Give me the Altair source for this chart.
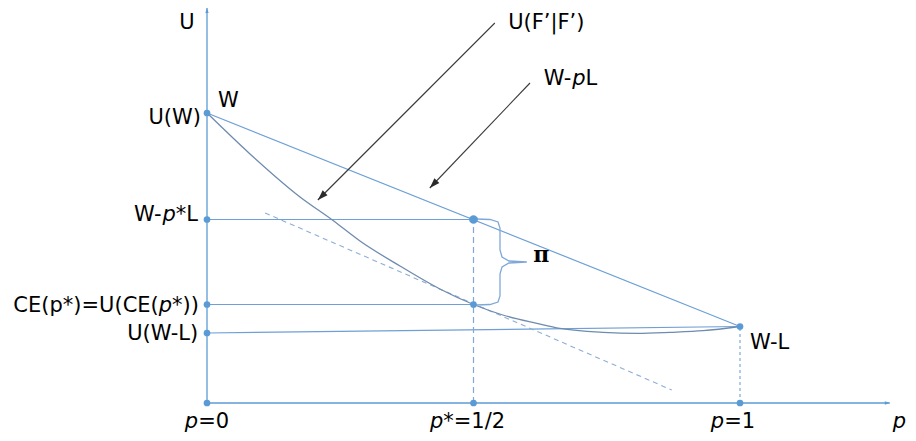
import math
import altair as alt
import pandas as pd

# ---------------- data (p on x, utility U on y) ----------------
U_W = 290.0        # U(W)
U_WPL = 183.5      # W - p*L
U_CE = 98.5        # CE(p*) = U(CE(p*))
U_WL_AXIS = 70.0   # U(W-L) on the axis
U_WL_END = 76.5    # W-L end point
P_STAR = 0.5
P_ONE = 1.0
P_AXIS_END = 1.281
U_AXIS_END = 395.0

curve_p = [0.0, 0.0807, 0.1745, 0.2364, 0.287, 0.362, 0.437, 0.5, 0.555, 0.619,
           0.662, 0.743, 0.807, 0.869, 0.931, 1.0]
curve_u = [290, 249, 206, 182.5, 162, 137, 114, 98.5, 88, 79.7,
           74.7, 70.7, 69.7, 70.7, 72.3, 76.5]

tangent_p = [0.109, 0.872]
tangent_u = [190, 13]

arrow1_p = [0.540, 0.208]
arrow1_u = [380, 203]
arrow2_p = [0.606, 0.418]
arrow2_u = [320, 215]

brace_p = [0.5047, 0.531, 0.546, 0.5497, 0.5497, 0.5535, 0.5666, 0.600,
           0.5666, 0.5535, 0.5497, 0.5497, 0.546, 0.531, 0.5047]
brace_u = [184, 183.5, 181, 175, 153, 146, 142, 141,
           140, 136, 129, 107, 101, 98.5, 98]

dots_p = [0, 0, 0, 0, 0, 0.5, 1.0, 0.5, 1.0]
dots_u = [290, 183.5, 98.5, 70, 0, 0, 0, 98.5, 76.5]

# label anchors
LBL_UFF = (0.565, 374.5)
LBL_WPL = (0.632, 318)
LBL_PI = (0.612, 141)

# ---------------- scales ----------------
W, H = 900, 425
PX_P = 533.0
X_DOM = [-199 / PX_P, (W - 199) / PX_P]
Y_DOM = [-30, 395]
xs = alt.Scale(domain=X_DOM, nice=False, zero=False)
ys = alt.Scale(domain=Y_DOM, nice=False, zero=False)


def X(f):
    return alt.X(f, type="quantitative", scale=xs, axis=None)


def Y(f):
    return alt.Y(f, type="quantitative", scale=ys, axis=None)


BLUE = "#5B9BD5"
LINE = "#6E9FD6"
CURVE = "#6F8BAE"
FONT = "DejaVu Sans"
FS = 21

layers = []


def seg(p1, u1, p2, u2, color, width=1.2, dash=None):
    kw = dict(color=color, strokeWidth=width)
    if dash:
        kw["strokeDash"] = dash
    df = pd.DataFrame({"p": [p1], "u": [u1], "p2": [p2], "u2": [u2]})
    return alt.Chart(df).mark_rule(**kw).encode(x=X("p"), y=Y("u"), x2="p2", y2="u2")


HEAD = "M0,0L-0.33,1L0.33,1Z"


def head(p, u, angle, size, color):
    df = pd.DataFrame({"p": [p], "u": [u]})
    return alt.Chart(df).mark_point(shape=HEAD, filled=True, opacity=1, size=size,
                                    angle=angle, color=color, strokeWidth=0).encode(
        x=X("p"), y=Y("u"))


def angle_of(ps, us):
    dx = (ps[1] - ps[0]) * PX_P
    dy = -(us[1] - us[0])
    return math.degrees(math.atan2(dx, -dy)) % 360


# axes
layers.append(seg(0, 0, 0, U_AXIS_END, BLUE, 1.3))
layers.append(seg(0, 0, P_AXIS_END, 0, BLUE, 1.3))
layers.append(head(0, U_AXIS_END, 0, 100, BLUE))
layers.append(head(P_AXIS_END, 0, 90, 100, BLUE))

# horizontal guide lines
layers.append(seg(0, U_WPL, P_STAR, U_WPL, LINE))
layers.append(seg(0, U_CE, P_STAR, U_CE, LINE))
layers.append(seg(0, U_WL_AXIS, P_ONE, U_WL_END, LINE))
# chord W - pL
layers.append(seg(0, U_W, P_ONE, U_WL_END, LINE))
# vertical dashed
layers.append(seg(P_STAR, 0, P_STAR, U_WPL, "#7FA8D8", 1.2, [6, 4]))
layers.append(seg(P_ONE, 0, P_ONE, U_WL_END, "#7FA8D8", 1.2, [3, 3]))
# tangent
layers.append(seg(tangent_p[0], tangent_u[0], tangent_p[1], tangent_u[1], "#8DAED6", 1.1, [5, 4]))

# curve
cdf = pd.DataFrame({"p": curve_p, "u": curve_u, "o": list(range(len(curve_p)))})
layers.append(alt.Chart(cdf).mark_line(color=CURVE, strokeWidth=1.3, interpolate="monotone").encode(
    x=X("p"), y=Y("u"), order="o:Q"))

# brace
bdf = pd.DataFrame({"p": brace_p, "u": brace_u, "o": list(range(len(brace_p)))})
layers.append(alt.Chart(bdf).mark_line(color="#7FA8D8", strokeWidth=1.3).encode(
    x=X("p"), y=Y("u"), order="o:Q"))

# pointer arrows
for ap, au in ((arrow1_p, arrow1_u), (arrow2_p, arrow2_u)):
    layers.append(seg(ap[0], au[0], ap[1], au[1], "#3A3A3A", 1.1))
    layers.append(head(ap[1], au[1], angle_of(ap, au), 420, "#2A2A2A"))

# dots
ddf = pd.DataFrame({"p": dots_p, "u": dots_u})
layers.append(alt.Chart(ddf).mark_circle(color=BLUE, size=45, opacity=1).encode(x=X("p"), y=Y("u")))
layers.append(alt.Chart(pd.DataFrame({"p": [P_STAR], "u": [U_WPL]})).mark_point(
    shape="M-1.3,-0.8L1.3,-0.8L1.3,0.8L-1.3,0.8Z", filled=True, size=36, color=BLUE, opacity=1).encode(
    x=X("p"), y=Y("u")))
layers.append(alt.Chart(pd.DataFrame({"p": [P_STAR], "u": [U_WPL]})).mark_circle(
    size=70, color=BLUE, opacity=1).encode(x=X("p"), y=Y("u")))

# ---------------- text ----------------
WID = {"W": 0.989, "U": 0.732, "(": 0.390, ")": 0.390, "-": 0.361, "p": 0.635,
       "*": 0.500, "L": 0.557, "C": 0.698, "E": 0.632, "=": 0.838, "0": 0.636,
       "1": 0.636, "2": 0.636, "/": 0.337, "F": 0.575, "|": 0.337, "\u2019": 0.318}


def twidth(s, size):
    return sum(WID.get(c, 0.6) for c in s) * size


def label(p, u, segments, align="left", dx=0, dy=0, size=FS, font=FONT, weight="normal"):
    total = sum(twidth(s, size) for s, _ in segments)
    off = dx - (total if align == "right" else total / 2 if align == "center" else 0)
    for s, ital in segments:
        df = pd.DataFrame({"p": [p], "u": [u], "t": [s]})
        layers.append(alt.Chart(df).mark_text(
            align="left", baseline="alphabetic", dx=off, dy=dy, font=font, fontSize=size,
            fontStyle="italic" if ital else "normal", fontWeight=weight, color="black").encode(
            x=X("p"), y=Y("u"), text="t:N"))
        off += twidth(s, size)


label(0, U_AXIS_END, [("U", False)], "center", dx=-20, dy=21)
label(P_AXIS_END, 0, [("p", True)], "left", dx=3, dy=25)
label(0, U_W, [("W", False)], "left", dx=11, dy=-6)
label(0, U_W, [("U(W)", False)], "right", dx=-6, dy=11)
label(0, U_WPL, [("W-", False), ("p", True), ("*L", False)], "right", dx=-9, dy=1)
label(0, U_CE, [("CE(p*)=U(CE(", False), ("p", True), ("*))", False)], "right", dx=-8, dy=7)
label(0, U_WL_AXIS, [("U(W-L)", False)], "right", dx=-8, dy=7)
label(0, 0, [("p", True), ("=0", False)], "center", dx=0, dy=25)
label(P_STAR, 0, [("p", True), ("*=1/2", False)], "center", dx=-6, dy=25)
label(P_ONE, 0, [("p", True), ("=1", False)], "center", dx=-7, dy=25)
label(P_ONE, U_WL_END, [("W-L", False)], "left", dx=10, dy=22)
label(LBL_UFF[0], LBL_UFF[1], [("U(F\u2019|F\u2019)", False)], "left")
label(LBL_WPL[0], LBL_WPL[1], [("W-", False), ("p", True), ("L", False)], "left")
label(LBL_PI[0], LBL_PI[1], [("\u03c0", False)], "left", size=22,
      font="DejaVu Serif", weight="bold")

chart = alt.layer(*layers).properties(
    width=W, height=H, padding=0, autosize=alt.AutoSizeParams(type="none"),
    background="white"
).configure_view(stroke=None)

chart.save("out.html", embed_options={"renderer": "svg", "actions": False})
